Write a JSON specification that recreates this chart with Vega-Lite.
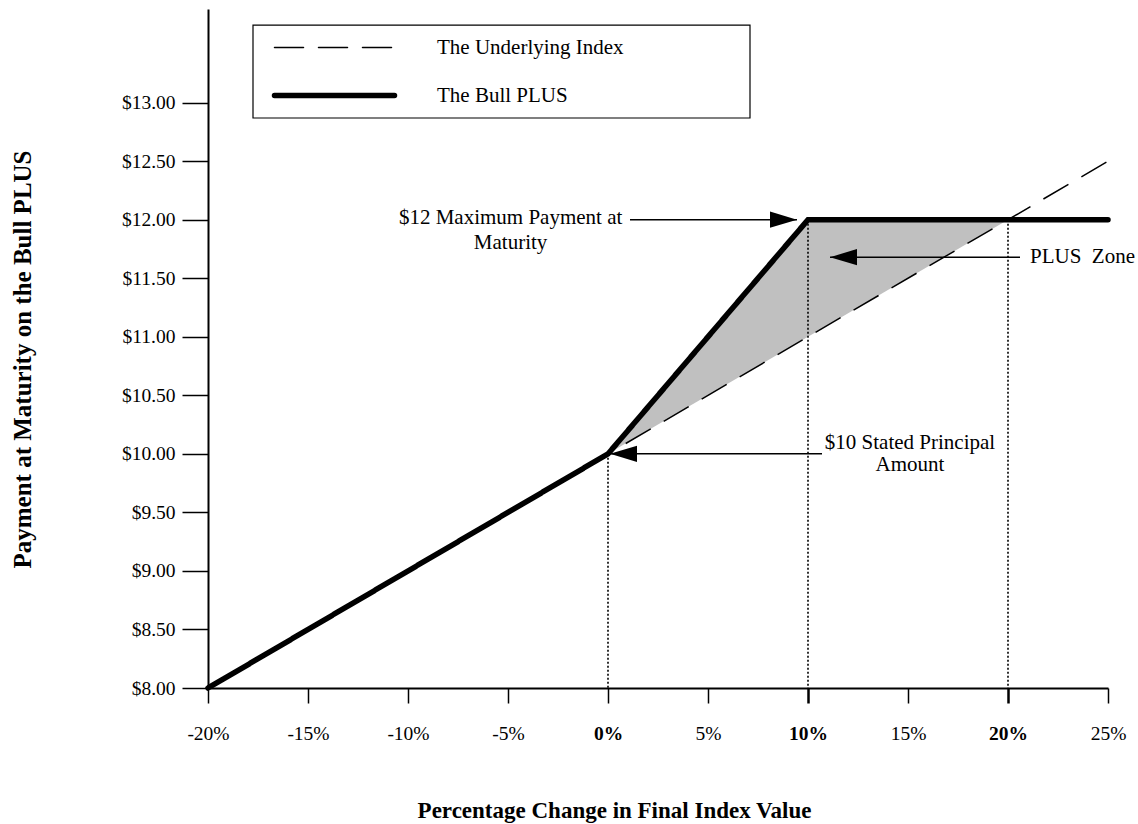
{
  "$schema": "https://vega.github.io/schema/vega-lite/v6.json",
  "width": 900,
  "height": 679,
  "autosize": {"type": "none"},
  "padding": {"left": 208, "top": 9, "right": 30, "bottom": 136},
  "background": "white",
  "config": {
    "view": {"stroke": null},
    "font": "Liberation Serif",
    "axis": {"grid": false, "domainColor": "black", "tickColor": "black", "labelColor": "black", "titleColor": "black", "labelFont": "Liberation Serif", "titleFont": "Liberation Serif"},
    "legend": {"labelFont": "Liberation Serif"}
  },
  "datasets": {
    "lines": [
      {"pct": -20, "value": 8, "series": "The Underlying Index"},
      {"pct": 0, "value": 10, "series": "The Underlying Index"},
      {"pct": 25, "value": 12.5, "series": "The Underlying Index"},
      {"pct": -20, "value": 8, "series": "The Bull PLUS"},
      {"pct": 0, "value": 10, "series": "The Bull PLUS"},
      {"pct": 10, "value": 12, "series": "The Bull PLUS"},
      {"pct": 25, "value": 12, "series": "The Bull PLUS"}
    ],
    "zone": [
      {"pct": 0, "low": 10, "high": 10},
      {"pct": 10, "low": 11, "high": 12},
      {"pct": 20, "low": 12, "high": 12}
    ],
    "guides": [
      {"pct": 0, "top": 10},
      {"pct": 10, "top": 12},
      {"pct": 20, "top": 12}
    ],
    "arrows": [
      {"from": 1.1, "to": 9.45, "value": 12, "dir": "right"},
      {"from": 20.6, "to": 11.1, "value": 11.68, "dir": "left"},
      {"from": 10.7, "to": 0.1, "value": 10, "dir": "left"}
    ],
    "notes": [
      {"text": "$12 Maximum Payment at", "pct": -4.87, "value": 11.963},
      {"text": "Maturity", "pct": -4.87, "value": 11.75},
      {"text": "$10 Stated Principal", "pct": 15.1, "value": 10.04},
      {"text": "Amount", "pct": 15.1, "value": 9.85}
    ],
    "zoneNote": [
      {"text": "PLUS\u00a0 Zone", "pct": 21.1, "value": 11.68}
    ],
    "legendBox": [
      {"left": -17.75, "right": 7.1, "top": 13.663, "bottom": 12.869}
    ]
  },
  "layer": [
    {
      "data": {"name": "zone"},
      "mark": {"type": "area", "color": "#c0c0c0", "opacity": 1},
      "encoding": {
        "x": {
          "field": "pct", "type": "quantitative",
          "title": "Percentage Change in Final Index Value",
          "scale": {"domain": [-20, 25], "nice": false, "zero": false},
          "axis": {
            "values": [-20, -15, -10, -5, 0, 5, 10, 15, 20, 25],
            "labelExpr": "datum.value + '%'",
            "labelFontSize": 19.5,
            "labelFontWeight": {"condition": {"test": "datum.value == 0 || datum.value == 10 || datum.value == 20", "value": "bold"}, "value": "normal"},
            "tickWidth": {"condition": {"test": "datum.value == 10 || datum.value == 20", "value": 2.5}, "value": 1.5},
            "tickSize": 15,
            "labelPadding": 21,
            "domainWidth": 2,
            "labelFlush": false,
            "labelOverlap": false,
            "titleFontSize": 23,
            "titleFontWeight": "bold",
            "titleX": 406,
            "titleY": 129,
            "titleBaseline": "alphabetic",
            "titleAlign": "center"
          }
        },
        "y": {
          "field": "high", "type": "quantitative",
          "title": "Payment at Maturity on the Bull PLUS",
          "scale": {"domain": [8, 13.8], "nice": false, "zero": false},
          "axis": {
            "values": [8, 8.5, 9, 9.5, 10, 10.5, 11, 11.5, 12, 12.5, 13],
            "format": "$.2f",
            "labelFontSize": 19.5,
            "tickSize": 26,
            "tickWidth": 1.5,
            "labelPadding": 7,
            "domainWidth": 2,
            "labelOverlap": false,
            "labelFlush": false,
            "titleFontSize": 25,
            "titleFontWeight": "bold",
            "titleAngle": -90,
            "titleX": -186,
            "titleY": 350,
            "titleBaseline": "middle",
            "titleAlign": "center"
          }
        },
        "y2": {"field": "low"}
      }
    },
    {
      "data": {"name": "legendBox"},
      "mark": {"type": "rect", "fill": "transparent", "stroke": "black", "strokeWidth": 1.2},
      "encoding": {
        "x": {"field": "left", "type": "quantitative", "title": "Percentage Change in Final Index Value"},
        "x2": {"field": "right"},
        "y": {"field": "top", "type": "quantitative", "title": "Payment at Maturity on the Bull PLUS"},
        "y2": {"field": "bottom"}
      }
    },
    {
      "data": {"name": "guides"},
      "mark": {"type": "rule", "color": "black", "strokeWidth": 1.6, "strokeDash": [2, 2]},
      "encoding": {
        "x": {"field": "pct", "type": "quantitative", "title": "Percentage Change in Final Index Value"},
        "y": {"field": "top", "type": "quantitative", "title": "Payment at Maturity on the Bull PLUS"},
        "y2": {"datum": 8}
      }
    },
    {
      "data": {"name": "lines"},
      "transform": [{"filter": "datum.series === 'The Underlying Index'"}],
      "mark": {"type": "line", "color": "black", "strokeWidth": 1.5, "strokeCap": "butt"},
      "encoding": {
        "x": {"field": "pct", "type": "quantitative", "title": "Percentage Change in Final Index Value"},
        "y": {"field": "value", "type": "quantitative", "title": "Payment at Maturity on the Bull PLUS"},
        "strokeDash": {
          "field": "series", "type": "nominal",
          "scale": {"domain": ["The Underlying Index", "The Bull PLUS"], "range": [[29, 15], [1, 0]]},
          "legend": {
            "orient": "none",
            "legendX": 116,
            "legendY": 28,
            "title": null,
            "padding": 0,
            "symbolType": "M-6,0L6,0",
            "symbolSize": 400,
            "symbolStrokeColor": "black",
            "symbolStrokeWidth": 1.5,
            "labelFontSize": 21,
            "labelColor": "black",
            "labelOffset": 92,
            "rowPadding": 26,
            "labelLimit": 400,
            "encode": {
              "symbols": {"update": {"strokeWidth": {"signal": "datum.value === 'The Bull PLUS' ? 5.5 : 1.5"}, "strokeCap": {"value": "round"}}}
            }
          }
        }
      }
    },
    {
      "data": {"name": "lines"},
      "transform": [{"filter": "datum.series === 'The Bull PLUS'"}],
      "mark": {"type": "line", "color": "black", "strokeWidth": 5.5, "strokeCap": "round", "strokeJoin": "miter"},
      "encoding": {
        "x": {"field": "pct", "type": "quantitative", "title": "Percentage Change in Final Index Value"},
        "y": {"field": "value", "type": "quantitative", "title": "Payment at Maturity on the Bull PLUS"},
        "strokeDash": {"field": "series", "type": "nominal"}
      }
    },
    {
      "data": {"name": "arrows"},
      "mark": {"type": "rule", "color": "black", "strokeWidth": 1.5},
      "encoding": {
        "x": {"field": "from", "type": "quantitative", "title": "Percentage Change in Final Index Value"},
        "x2": {"field": "to"},
        "y": {"field": "value", "type": "quantitative", "title": "Payment at Maturity on the Bull PLUS"}
      }
    },
    {
      "data": {"name": "arrows"},
      "mark": {"type": "point", "filled": true, "color": "black", "opacity": 1, "size": 729, "strokeWidth": 0},
      "encoding": {
        "x": {"field": "to", "type": "quantitative", "title": "Percentage Change in Final Index Value"},
        "y": {"field": "value", "type": "quantitative", "title": "Payment at Maturity on the Bull PLUS"},
        "shape": {"field": "dir", "type": "nominal", "scale": {"domain": ["right", "left"], "range": ["M0,0L-2,-0.6L-2,0.6Z", "M0,0L2,-0.6L2,0.6Z"]}, "legend": null}
      }
    },
    {
      "data": {"name": "notes"},
      "mark": {"type": "text", "align": "center", "baseline": "alphabetic", "fontSize": 21, "font": "Liberation Serif", "color": "black"},
      "encoding": {
        "x": {"field": "pct", "type": "quantitative", "title": "Percentage Change in Final Index Value"},
        "y": {"field": "value", "type": "quantitative", "title": "Payment at Maturity on the Bull PLUS"},
        "text": {"field": "text"}
      }
    },
    {
      "data": {"name": "zoneNote"},
      "mark": {"type": "text", "align": "left", "baseline": "middle", "fontSize": 21, "font": "Liberation Serif", "color": "black"},
      "encoding": {
        "x": {"field": "pct", "type": "quantitative", "title": "Percentage Change in Final Index Value"},
        "y": {"field": "value", "type": "quantitative", "title": "Payment at Maturity on the Bull PLUS"},
        "text": {"field": "text"}
      }
    }
  ]
}
